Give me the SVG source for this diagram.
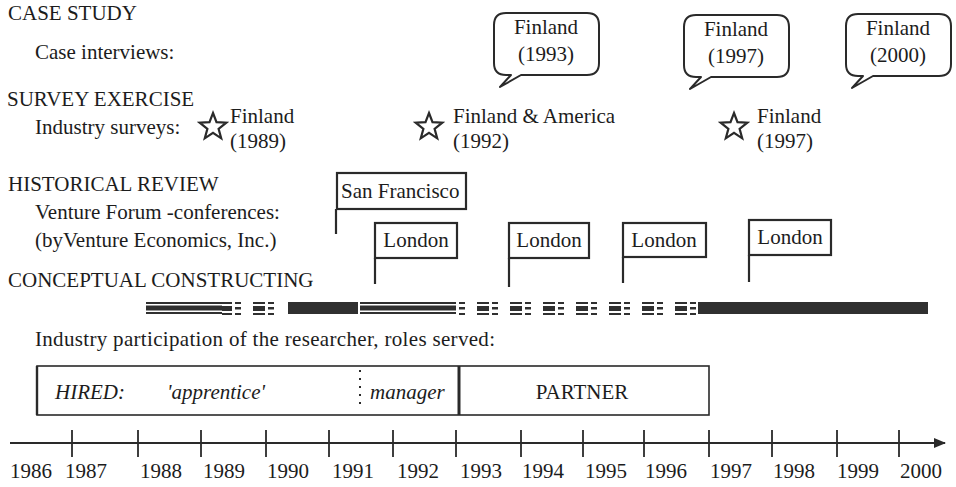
<svg xmlns="http://www.w3.org/2000/svg" width="956" height="487" viewBox="0 0 956 487">
  <style>
    text { font-family: "Liberation Serif", "Times New Roman", serif; font-size: 21px; fill: #1c1c1c; }
    .it { font-style: italic; }
    .mid { text-anchor: middle; }
    .bubble { fill: #fff; stroke: #2a2a2a; stroke-width: 2; stroke-linejoin: round; }
    .flag { fill: #fff; stroke: #2a2a2a; stroke-width: 2.2; }
    .pole { stroke: #2a2a2a; stroke-width: 2.2; fill: none; }
    .star { fill: #fff; stroke: #2a2a2a; stroke-width: 2.2; stroke-linejoin: miter; }
    .bar { fill: #303030; }
    .gap { fill: #fff; }
    .box { fill: #fff; stroke: #2a2a2a; stroke-width: 1.6; }
    .axis { stroke: #2a2a2a; stroke-width: 1.8; fill: none; }
    .dash { fill: #303030; }
  </style>
  <defs>
    <!-- speech bubble with tail at the lower left -->
    <path id="bubble" d="M27 62 L93 62 Q105 62 105 50 L105 12 Q105 0 93 0 L12 0 Q0 0 0 12 L0 50 Q0 62 12 62 L17 62 L6 74 Z"/>
    <polygon id="star" points="0,-14 3.5,-4.8 13.3,-4.3 5.6,1.8 8.2,11.3 0,5.9 -8.2,11.3 -5.6,1.8 -13.3,-4.3 -3.5,-4.8"/>
    <!-- one repeat of the broken triple-line stroke -->
    <g id="dash-unit">
      <rect class="dash" x="0" y="0" width="12" height="2"/>
      <rect class="dash" x="0" y="4" width="12" height="5"/>
      <rect class="dash" x="0" y="11" width="12" height="2"/>
      <rect class="dash" x="15" y="0" width="6" height="2"/>
      <rect class="dash" x="15" y="5" width="6" height="2.5"/>
      <rect class="dash" x="15" y="11" width="6" height="2"/>
    </g>
    <pattern id="broken-a" patternUnits="userSpaceOnUse" x="220" y="302" width="33" height="13">
      <use href="#dash-unit"/>
    </pattern>
    <pattern id="broken-b" patternUnits="userSpaceOnUse" x="477" y="302" width="33" height="13">
      <use href="#dash-unit"/>
    </pattern>
    <marker id="arrow" markerWidth="12" markerHeight="10" refX="11" refY="5" orient="auto" markerUnits="userSpaceOnUse">
      <path d="M0 0 L12 5 L0 10 Z" fill="#2a2a2a"/>
    </marker>
  </defs>

  <!-- CASE STUDY -->
  <g id="case-study">
    <text x="8" y="20">CASE STUDY</text>
    <text x="35" y="59">Case interviews:</text>
  </g>
  <g id="bubble-1993">
    <use href="#bubble" class="bubble" x="494" y="13"/>
    <text class="mid" x="546" y="34">Finland</text>
    <text class="mid" x="546" y="61">(1993)</text>
  </g>
  <g id="bubble-1997">
    <use href="#bubble" class="bubble" x="684" y="15"/>
    <text class="mid" x="736" y="36">Finland</text>
    <text class="mid" x="736" y="63">(1997)</text>
  </g>
  <g id="bubble-2000">
    <use href="#bubble" class="bubble" x="846" y="14"/>
    <text class="mid" x="898" y="35">Finland</text>
    <text class="mid" x="898" y="62">(2000)</text>
  </g>

  <!-- SURVEY EXERCISE -->
  <g id="survey">
    <text x="7" y="106">SURVEY EXERCISE</text>
    <text x="35" y="134">Industry surveys:</text>
  </g>
  <g id="survey-1989">
    <use href="#star" class="star" x="213" y="127"/>
    <text x="230" y="123">Finland</text>
    <text x="230" y="148">(1989)</text>
  </g>
  <g id="survey-1992">
    <use href="#star" class="star" x="429" y="127"/>
    <text x="453" y="123">Finland &amp; America</text>
    <text x="453" y="148">(1992)</text>
  </g>
  <g id="survey-1997">
    <use href="#star" class="star" x="734" y="127"/>
    <text x="757" y="123">Finland</text>
    <text x="757" y="148">(1997)</text>
  </g>

  <!-- HISTORICAL REVIEW -->
  <g id="historical">
    <text x="8" y="191">HISTORICAL REVIEW</text>
    <text x="35" y="219">Venture Forum -conferences:</text>
    <text x="35" y="247">(byVenture Economics, Inc.)</text>
  </g>
  <g id="flag-san-francisco">
    <rect class="flag" x="337" y="173" width="129" height="36"/>
    <line class="pole" x1="336" y1="209" x2="336" y2="234"/>
    <text x="341" y="198">San Francisco</text>
  </g>
  <g id="flag-london-1">
    <rect class="flag" x="375" y="223" width="82" height="35"/>
    <line class="pole" x1="375" y1="258" x2="375" y2="284"/>
    <text class="mid" x="416" y="247">London</text>
  </g>
  <g id="flag-london-2">
    <rect class="flag" x="509" y="223" width="80" height="35"/>
    <line class="pole" x1="509" y1="258" x2="509" y2="287"/>
    <text class="mid" x="549" y="247">London</text>
  </g>
  <g id="flag-london-3">
    <rect class="flag" x="623" y="223" width="83" height="34"/>
    <line class="pole" x1="623" y1="257" x2="623" y2="283"/>
    <text class="mid" x="664" y="247">London</text>
  </g>
  <g id="flag-london-4">
    <rect class="flag" x="749" y="220" width="82" height="35"/>
    <line class="pole" x1="749" y1="255" x2="749" y2="282"/>
    <text class="mid" x="790" y="244">London</text>
  </g>

  <!-- CONCEPTUAL CONSTRUCTING -->
  <g id="conceptual">
    <text x="8" y="287">CONCEPTUAL CONSTRUCTING</text>
    <!-- triple line 1986-1987 -->
    <rect class="bar" x="146" y="302" width="76" height="12"/>
    <rect class="gap" x="146" y="304" width="76" height="1.5"/>
    <rect class="gap" x="146" y="310.5" width="76" height="1.5"/>
    <!-- broken -->
    <rect x="222" y="302" width="60" height="13" fill="url(#broken-a)"/>
    <!-- solid -->
    <rect class="bar" x="288" y="302" width="70" height="12"/>
    <!-- triple line -->
    <rect class="bar" x="360" y="302" width="96" height="12"/>
    <rect class="gap" x="360" y="304" width="96" height="1.5"/>
    <rect class="gap" x="360" y="310.5" width="96" height="1.5"/>
    <!-- broken -->
    <rect x="457" y="302" width="241" height="13" fill="url(#broken-b)"/>
    <!-- solid -->
    <rect class="bar" x="698" y="302" width="230" height="12"/>
  </g>

  <!-- Roles -->
  <g id="roles">
    <text x="35" y="346" textLength="460" lengthAdjust="spacing">Industry participation of the researcher, roles served:</text>
    <rect class="box" x="37" y="366" width="672" height="49"/>
    <line x1="37" y1="366" x2="37" y2="415" stroke="#2a2a2a" stroke-width="2.4"/>
    <line x1="459" y1="366" x2="459" y2="415" stroke="#2a2a2a" stroke-width="3"/>
    <line x1="360" y1="370" x2="360" y2="410" stroke="#2a2a2a" stroke-width="2" stroke-dasharray="2 6"/>
    <text class="it" x="55" y="399">HIRED:</text>
    <text class="it" x="167" y="399">'apprentice'</text>
    <text class="it" x="370" y="399">manager</text>
    <text class="mid" x="582" y="399">PARTNER</text>
  </g>

  <!-- time axis -->
  <g id="axis">
    <line class="axis" x1="10" y1="443" x2="945" y2="443" marker-end="url(#arrow)"/>
    <path class="axis" d="M72 430V457M138 430V457M201 430V457M266 430V457M329 430V457M393 430V457M456 430V457M521 430V457M583 430V457M644 430V457M709 430V457M772 430V457M837 430V457M899 430V457"/>
    <text x="10" y="478">1986</text>
    <text x="65" y="478">1987</text>
    <text x="140" y="478">1988</text>
    <text x="203" y="478">1989</text>
    <text x="267" y="478">1990</text>
    <text x="332" y="478">1991</text>
    <text x="397" y="478">1992</text>
    <text x="460" y="478">1993</text>
    <text x="522" y="478">1994</text>
    <text x="585" y="478">1995</text>
    <text x="645" y="478">1996</text>
    <text x="710" y="478">1997</text>
    <text x="773" y="478">1998</text>
    <text x="837" y="478">1999</text>
    <text x="900" y="478">2000</text>
  </g>
</svg>
